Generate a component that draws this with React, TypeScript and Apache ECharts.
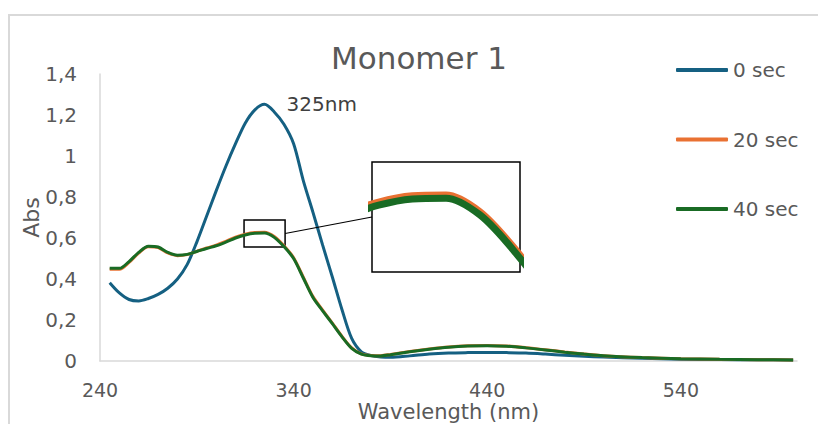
import React, { useEffect, useRef } from "react";
import * as echarts from "echarts";

// Wavelength grid (nm) shared by the three spectra
const wavelengths = [
  245, 250, 255, 260, 265, 270, 275, 280, 285, 290, 295, 300, 305, 310, 315,
  320, 325, 330, 335, 340, 345, 350, 355, 360, 365, 370, 375, 380, 385, 390,
  400, 410, 420, 430, 440, 450, 460, 470, 480, 490, 500, 520, 540, 560, 580,
  598,
];

// Absorbance after 0 s of irradiation
const abs0sec = [
  0.382, 0.332, 0.3, 0.293, 0.305, 0.325, 0.355, 0.4, 0.47, 0.58, 0.705, 0.83,
  0.95, 1.06, 1.16, 1.225, 1.252, 1.215, 1.155, 1.06, 0.88, 0.725, 0.565, 0.41,
  0.25, 0.11, 0.045, 0.027, 0.02, 0.018, 0.025, 0.034, 0.039, 0.041, 0.042,
  0.041, 0.039, 0.034, 0.028, 0.023, 0.019, 0.013, 0.009, 0.007, 0.006, 0.005,
];

// Absorbance after 20 s
const abs20sec = [
  0.448, 0.448, 0.481, 0.527, 0.557, 0.553, 0.527, 0.514, 0.519, 0.535, 0.551,
  0.565, 0.584, 0.604, 0.619, 0.627, 0.628, 0.607, 0.562, 0.504, 0.409, 0.314,
  0.248, 0.185, 0.12, 0.064, 0.035, 0.027, 0.026, 0.032, 0.046, 0.058, 0.068,
  0.074, 0.076, 0.073, 0.065, 0.055, 0.044, 0.034, 0.026, 0.017, 0.011, 0.008,
  0.006, 0.005,
];

// Absorbance after 40 s
const abs40sec = [
  0.452, 0.452, 0.485, 0.53, 0.56, 0.556, 0.53, 0.516, 0.52, 0.534, 0.549,
  0.562, 0.58, 0.6, 0.615, 0.623, 0.624, 0.603, 0.558, 0.5, 0.405, 0.31, 0.245,
  0.182, 0.118, 0.062, 0.034, 0.026, 0.025, 0.031, 0.045, 0.057, 0.067, 0.073,
  0.075, 0.072, 0.064, 0.054, 0.043, 0.034, 0.026, 0.017, 0.011, 0.008, 0.006,
  0.005,
];

const seriesNames = ["0 sec", "20 sec", "40 sec"];
const peakWavelength = 325;
const peakLabel = "325nm";

// Region of the main plot that is magnified in the inset
const zoomBoxX = [314.4, 335.6];
const zoomBoxY = [0.556, 0.688];
// Axis ranges used by the inset
const insetX = [314, 336];
const insetY = [0.53, 0.67];

const COLORS = ["#156082", "#E97132", "#196B24"];
const FONT = "DejaVu Sans";
const TEXT = "#595959";

const toPairs = (ys: number[]) => wavelengths.map((w, i) => [w, ys[i]]);

const INSET = { left: 372, top: 162, width: 148, height: 110 };

export default function App() {
  const ref = useRef<HTMLDivElement>(null);

  useEffect(() => {
    if (!ref.current) return;
    const chart = echarts.init(ref.current, undefined, { renderer: "svg" });

    const peakValue = abs0sec[wavelengths.indexOf(peakWavelength)];
    const fmt = (v: number) => String(v).replace(".", ",");

    const option: any = {
      animation: false,
      backgroundColor: "#ffffff",
      title: {
        text: "Monomer 1",
        left: 419,
        top: 42,
        padding: 0,
        textAlign: "center",
        textStyle: {
          fontFamily: FONT,
          fontSize: 31,
          fontWeight: "normal",
          color: TEXT,
        },
      },
      legend: {
        data: seriesNames,
        orient: "vertical",
        left: 676,
        top: 60,
        itemWidth: 52,
        itemHeight: 4,
        itemGap: 49.5,
        icon: "roundRect",
        padding: 0,
        textStyle: {
          fontFamily: FONT,
          fontSize: 20,
          lineHeight: 20,
          color: TEXT,
        },
      },
      grid: [
        {
          left: 100,
          right: 21,
          top: 74,
          bottom: 63,
          outerBoundsMode: "none",
          containLabel: false,
        },
        {
          left: INSET.left,
          top: INSET.top,
          width: INSET.width,
          height: INSET.height,
          show: true,
          borderColor: "#000000",
          borderWidth: 1.5,
          backgroundColor: "#ffffff",
          outerBoundsMode: "none",
          z: 5,
        },
      ],
      xAxis: [
        {
          type: "value",
          gridIndex: 0,
          min: 240,
          max: 600,
          interval: 100,
          name: "Wavelength (nm)",
          nameLocation: "middle",
          nameGap: 40,
          nameMoveOverlap: false,
          nameTextStyle: { fontFamily: FONT, fontSize: 21, lineHeight: 22, color: TEXT },
          axisLine: { lineStyle: { color: "#d9d9d9", width: 1.5 } },
          axisTick: { show: false },
          splitLine: { show: false },
          axisLabel: {
            fontFamily: FONT,
            fontSize: 19,
            lineHeight: 16,
            color: TEXT,
            margin: 21,
            showMaxLabel: false,
          },
        },
        {
          type: "value",
          gridIndex: 1,
          min: insetX[0],
          max: insetX[1],
          show: false,
        },
      ],
      yAxis: [
        {
          type: "value",
          gridIndex: 0,
          min: 0,
          max: 1.4,
          interval: 0.2,
          name: "Abs",
          nameLocation: "middle",
          nameGap: 58,
          nameMoveOverlap: false,
          nameTextStyle: { fontFamily: FONT, fontSize: 22, color: TEXT },
          axisLine: { show: true, lineStyle: { color: "#d9d9d9", width: 1.5 } },
          axisTick: { show: false },
          splitLine: { show: false },
          axisLabel: {
            fontFamily: FONT,
            fontSize: 20,
            color: TEXT,
            margin: 23,
            formatter: fmt,
          },
        },
        {
          type: "value",
          gridIndex: 1,
          min: insetY[0],
          max: insetY[1],
          show: false,
        },
      ],
      series: [
        {
          name: seriesNames[0],
          type: "line",
          data: toPairs(abs0sec),
          smooth: 0.3,
          showSymbol: false,
          lineStyle: { width: 3, color: COLORS[0] },
          itemStyle: { color: COLORS[0] },
          markPoint: {
            silent: true,
            symbol: "circle",
            symbolSize: 0,
            data: [{ coord: [peakWavelength, peakValue] }],
            label: {
              show: true,
              position: "right",
              distance: 22,
              formatter: peakLabel,
              fontFamily: FONT,
              fontSize: 20,
              color: "#404040",
            },
          },
        },
        {
          name: seriesNames[1],
          type: "line",
          data: toPairs(abs20sec),
          smooth: 0.3,
          showSymbol: false,
          lineStyle: { width: 3, color: COLORS[1] },
          itemStyle: { color: COLORS[1] },
        },
        {
          name: seriesNames[2],
          type: "line",
          data: toPairs(abs40sec),
          smooth: 0.3,
          showSymbol: false,
          lineStyle: { width: 3, color: COLORS[2] },
          itemStyle: { color: COLORS[2] },
          markArea: {
            silent: true,
            itemStyle: {
              color: "rgba(0,0,0,0)",
              borderColor: "#000000",
              borderWidth: 1.5,
            },
            data: [
              [
                { coord: [zoomBoxX[0], zoomBoxY[1]] },
                { coord: [zoomBoxX[1], zoomBoxY[0]] },
              ],
            ],
          },
        },
        // magnified view
        {
          name: seriesNames[1],
          type: "line",
          xAxisIndex: 1,
          yAxisIndex: 1,
          data: toPairs(abs20sec),
          smooth: 0.3,
          showSymbol: false,
          clip: true,
          z: 6,
          lineStyle: { width: 7, color: COLORS[1] },
          itemStyle: { color: COLORS[1] },
        },
        {
          name: seriesNames[2],
          type: "line",
          xAxisIndex: 1,
          yAxisIndex: 1,
          data: toPairs(abs40sec),
          smooth: 0.3,
          showSymbol: false,
          clip: true,
          z: 7,
          lineStyle: { width: 7, color: COLORS[2] },
          itemStyle: { color: COLORS[2] },
        },
      ],
    };

    chart.setOption(option);

    // connector from the zoom box to the inset, plus the outer frame
    const from = chart.convertToPixel({ xAxisIndex: 0, yAxisIndex: 0 }, [
      zoomBoxX[1],
      (zoomBoxY[0] + zoomBoxY[1]) / 2,
    ]) as number[];
    chart.setOption({
      graphic: [
        {
          type: "polyline",
          silent: true,
          shape: {
            points: [
              [9, 424],
              [9, 15],
              [818, 15],
            ],
          },
          style: { stroke: "#d9d9d9", lineWidth: 2, fill: null },
        },
        {
          type: "line",
          silent: true,
          z: 10,
          shape: {
            x1: from[0],
            y1: from[1],
            x2: INSET.left,
            y2: INSET.top + INSET.height / 2,
          },
          style: { stroke: "#000000", lineWidth: 1.2 },
        },
      ],
    });

    return () => chart.dispose();
  }, []);

  return (
    <div
      ref={ref}
      style={{ position: "fixed", left: 0, top: 0, width: 818, height: 424 }}
    />
  );
}
